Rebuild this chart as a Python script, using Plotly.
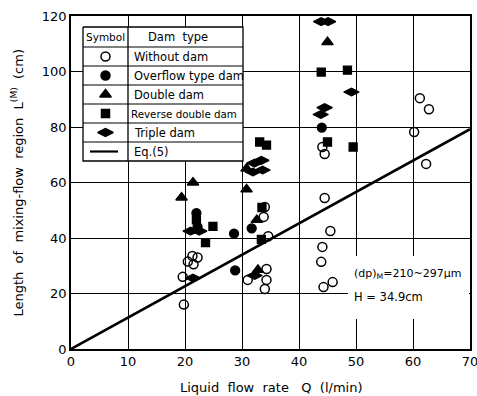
import plotly.graph_objects as go

# ---------------- data (Q in l/min, L in cm) ----------------
without_q = [19.8, 19.6, 20.5, 21.3, 22.2, 21.5,
             34.0, 33.8, 34.6, 31.0, 34.3, 34.3, 34.0,
             44.1, 44.5, 44.5, 45.5, 44.1, 43.9, 44.3, 45.9,
             61.2, 62.8, 60.2, 62.3]
without_l = [16.0, 26.0, 31.5, 33.5, 33.0, 30.5,
             51.2, 47.6, 40.6, 24.9, 28.8, 24.9, 21.6,
             72.8, 70.3, 54.4, 42.5, 36.8, 31.4, 22.3, 24.1,
             90.4, 86.4, 78.2, 66.7]

overflow_q = [22.0, 22.2, 28.6, 31.7, 28.8, 44.0]
overflow_l = [49.0, 44.0, 41.6, 43.5, 28.3, 79.8]

double_q = [21.4, 19.4, 30.8, 30.8, 32.6, 32.8, 45.0]
double_l = [60.0, 54.6, 65.0, 57.5, 46.5, 28.5, 110.6]

reverse_q = [22.0, 24.9, 23.6, 33.1, 34.3, 33.5, 33.4, 43.9, 48.5, 45.0, 49.5]
reverse_l = [46.5, 44.2, 38.3, 74.6, 73.5, 51.0, 39.5, 99.8, 100.5, 74.6, 72.8]

triple_q = [21.0, 22.5, 21.4, 33.4, 32.2, 33.6, 31.9, 32.2, 43.9, 45.1, 44.5, 43.8, 49.2]
triple_l = [42.5, 42.5, 25.6, 68.0, 67.0, 64.5, 63.8, 26.5, 118.0, 118.0, 87.0, 84.5, 92.6]

eq5_q = [0, 70]
eq5_l = [0, 79.2]

x_ticks = [0, 10, 20, 30, 40, 50, 60, 70]
y_ticks = [0, 20, 40, 60, 80, 100, 120]

legend_names = ["Without dam", "Overflow type dam", "Double dam",
                "Reverse double dam", "Triple dam", "Eq.(5)"]

FONT = "DejaVu Sans"
BLACK = "black"

# plot-area pixel frame (used only for layout of legend/annotation boxes)
PX0, PX1, PY0, PY1 = 71, 470, 16, 349

fig = go.Figure()

mk = dict(color=BLACK, line=dict(color=BLACK, width=1.3))
fig.add_trace(go.Scatter(x=eq5_q, y=eq5_l, mode="lines",
                         line=dict(color=BLACK, width=2.6), hoverinfo="skip"))
fig.add_trace(go.Scatter(x=without_q, y=without_l, mode="markers",
                         marker=dict(symbol="circle-open", size=9,
                                     color=BLACK, line=dict(width=1.5))))
fig.add_trace(go.Scatter(x=overflow_q, y=overflow_l, mode="markers",
                         marker=dict(symbol="circle", size=9, **mk)))
fig.add_trace(go.Scatter(x=double_q, y=double_l, mode="markers",
                         marker=dict(symbol="triangle-up", size=10, **mk)))
fig.add_trace(go.Scatter(x=reverse_q, y=reverse_l, mode="markers",
                         marker=dict(symbol="square", size=8, **mk)))
fig.add_trace(go.Scatter(x=triple_q, y=triple_l, mode="markers",
                         marker=dict(symbol="diamond-wide", size=11, **mk)))

# ---------------- overlay (pixel-like) layer: white boxes, legend table ----------------
def poly(xs, ys, **kw):
    fig.add_trace(go.Scatter(x=xs, y=ys, xaxis="x2", yaxis="y2", hoverinfo="skip", **kw))

# white box behind the annotation text
poly([348, 469, 469, 348, 348], [256, 256, 319, 319, 256], mode="lines",
     fill="toself", fillcolor="white", line=dict(width=0, color="white"))

L_left, L_div, L_right = 83, 128, 243
rows = [27, 47, 66, 85, 104, 123, 142, 161]
poly([L_left, L_right, L_right, L_left, L_left],
     [rows[0], rows[0], rows[-1], rows[-1], rows[0]], mode="lines",
     fill="toself", fillcolor="white", line=dict(color=BLACK, width=1.3))
poly([L_div, L_div], [rows[0], rows[-1]], mode="lines",
     line=dict(color=BLACK, width=1.3))
for r in rows[1:-1]:
    poly([L_left, L_right], [r, r], mode="lines", line=dict(color=BLACK, width=1.1))

centers = [(rows[i] + rows[i + 1]) / 2 for i in range(1, 7)]
sym_x = (L_left + L_div) / 2
leg_syms = [("circle-open", 9), ("circle", 9), ("triangle-up", 10),
            ("square", 8), ("diamond-wide", 11)]
for (s, sz), cy in zip(leg_syms, centers[:5]):
    poly([sym_x], [cy], mode="markers",
         marker=dict(symbol=s, size=sz, color=BLACK, line=dict(color=BLACK, width=1.5)))
poly([90, 118], [centers[5], centers[5]], mode="lines", line=dict(color=BLACK, width=2.2))

annots = []
annots.append(dict(x=(L_left + L_div) / 2, y=(rows[0] + rows[1]) / 2, xref="x2",
                   yref="y2", text="Symbol", showarrow=False,
                   font=dict(family=FONT, size=10.5, color=BLACK)))
annots.append(dict(x=178, y=(rows[0] + rows[1]) / 2, xref="x2", yref="y2",
                   text="Dam  type", showarrow=False,
                   font=dict(family=FONT, size=11.5, color=BLACK)))
for name, cy in zip(legend_names, centers):
    size = 11.5
    xx = 132
    if name == "Reverse double dam":
        size = 10.3
        xx = 129
    annots.append(dict(x=xx, y=cy, xref="x2", yref="y2", text=name,
                       xanchor="left", showarrow=False,
                       font=dict(family=FONT, size=size, color=BLACK)))
annots.append(dict(x=352, y=274, xref="x2", yref="y2",
                   text="(dp)<sub>M</sub>=210~297\u03bcm", xanchor="left",
                   showarrow=False, font=dict(family=FONT, size=11, color=BLACK)))
annots.append(dict(x=352, y=297, xref="x2", yref="y2",
                   text="H = 34.9cm", xanchor="left",
                   showarrow=False, font=dict(family=FONT, size=11.5, color=BLACK)))
# axis titles
annots.append(dict(x=0.5, y=-0.117, xref="paper", yref="paper",
                   text="Liquid  flow  rate   Q  (l/min)", showarrow=False,
                   xanchor="center", yanchor="middle",
                   font=dict(family=FONT, size=13, color=BLACK)))
annots.append(dict(x=(17 - PX0) / (PX1 - PX0), y=0.5, xref="paper", yref="paper",
                   text="Length  of  mixing-flow  region  L<sup>(M)</sup>  (cm)",
                   showarrow=False, textangle=-90, xanchor="center", yanchor="middle",
                   font=dict(family=FONT, size=13, color=BLACK)))

fig.update_layout(
    width=477, height=396,
    margin=dict(l=71, r=7, t=16, b=47, autoexpand=False),
    paper_bgcolor="white", plot_bgcolor="white",
    showlegend=False,
    font=dict(family=FONT, size=13, color=BLACK),
    annotations=annots,
    xaxis=dict(range=[0, 70], tickvals=x_ticks, ticktext=[str(v) for v in x_ticks],
               showgrid=True, gridcolor=BLACK, gridwidth=1, automargin=False,
               showline=True, linecolor=BLACK, linewidth=1.5, mirror=True,
               zeroline=False, ticks="", tickfont=dict(size=13),
               ticklabeloverflow="allow"),
    yaxis=dict(range=[0, 120], tickvals=y_ticks, ticktext=[str(v) for v in y_ticks],
               showgrid=True, gridcolor=BLACK, gridwidth=1, automargin=False,
               showline=True, linecolor=BLACK, linewidth=1.5, mirror=True,
               zeroline=False, ticks="", tickfont=dict(size=13),
               ticklabeloverflow="allow"),
    xaxis2=dict(range=[PX0, PX1], overlaying="x", visible=False, fixedrange=True),
    yaxis2=dict(range=[PY1, PY0], overlaying="y", visible=False, fixedrange=True),
)

fig.write_html("out.html", config={"displayModeBar": False},
               post_script="document.body.style.margin='0';document.body.style.padding='0';"
                           "document.documentElement.style.overflow='hidden';")
